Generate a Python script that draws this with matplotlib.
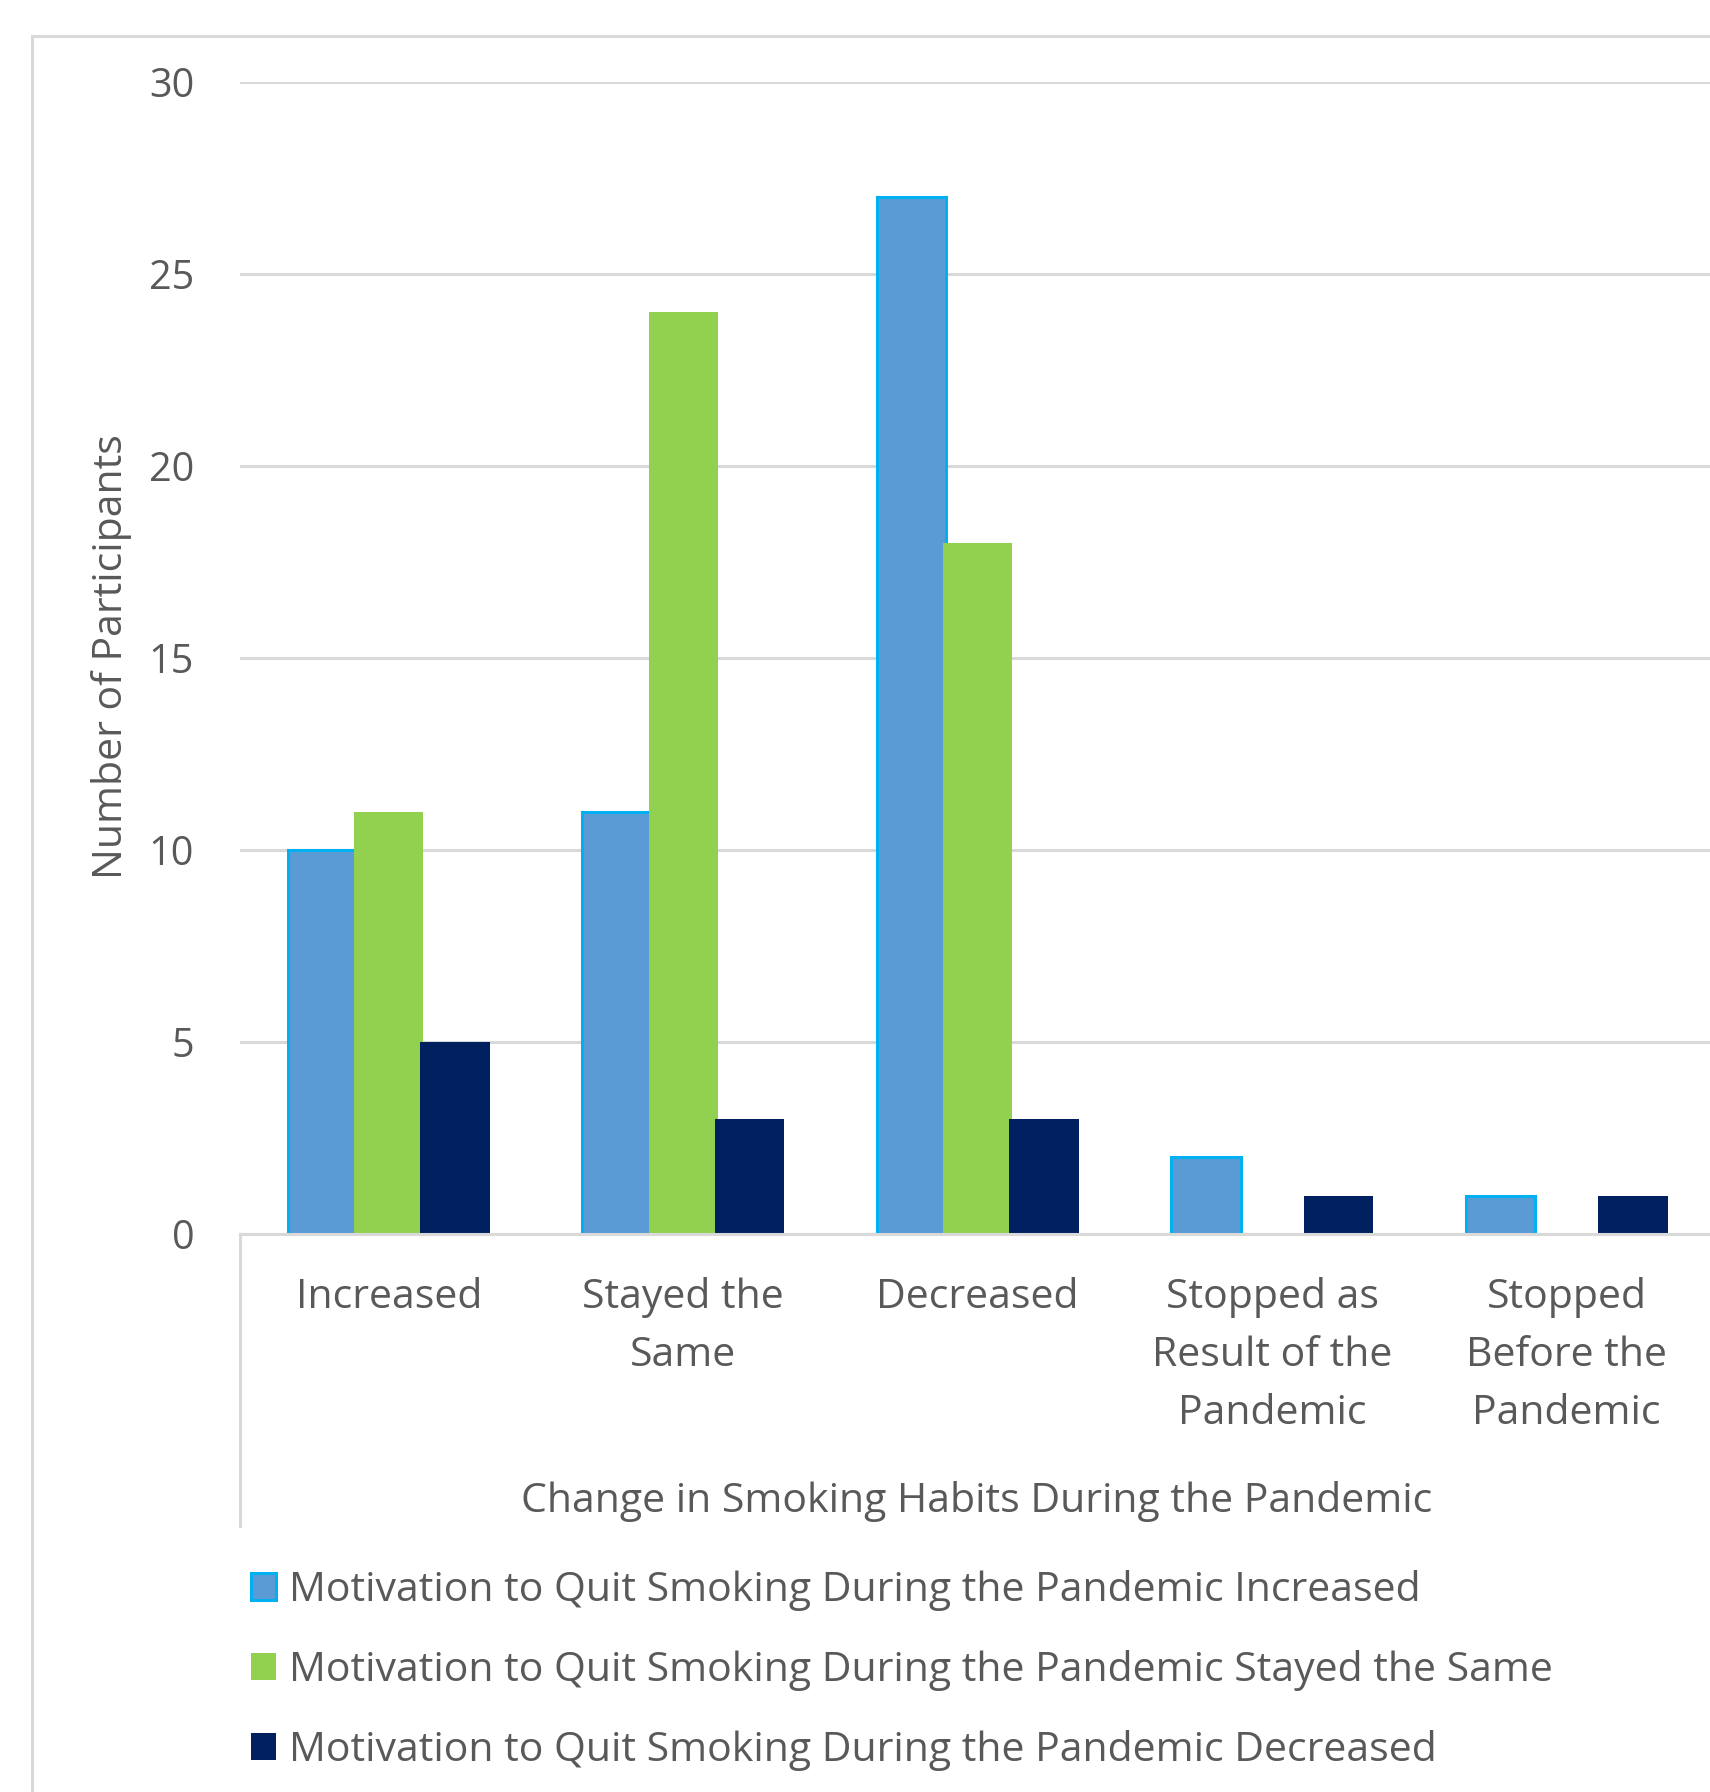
import numpy as np
import matplotlib
matplotlib.use("Agg")
import matplotlib.pyplot as plt
from matplotlib.lines import Line2D

plt.rcParams['font.family'] = ['Open Sans', 'DejaVu Sans']

categories = ['Increased', 'Stayed the\nSame', 'Decreased',
              'Stopped as\nResult of the\nPandemic', 'Stopped\nBefore the\nPandemic']
motivation_increased = [10, 11, 27, 2, 1]
motivation_same = [11, 24, 18, 0, 0]
motivation_decreased = [5, 3, 3, 1, 1]
series_labels = ['Motivation to Quit Smoking During the Pandemic Increased',
                 'Motivation to Quit Smoking During the Pandemic Stayed the Same',
                 'Motivation to Quit Smoking During the Pandemic Decreased']
y_ticks = [0, 5, 10, 15, 20, 25, 30]

TEXT = '#595959'
GRID = '#d9d9d9'
FS = 29.5

W, H = 1710, 1792
fig = plt.figure(figsize=(W / 100, H / 100), dpi=100)
ax = fig.add_axes([240 / W, 1 - 1234 / H, 1474 / W, (1234 - 82) / H])

x = np.arange(len(categories))
bw = 0.235
off = 0.225
b1 = ax.bar(x - off, motivation_increased, bw, color='#5b9bd5', edgecolor='#00b0f0',
            linewidth=2.2, label=series_labels[0], zorder=3)
b2 = ax.bar(x, motivation_same, bw, color='#92d050', linewidth=0,
            label=series_labels[1], zorder=3)
b3 = ax.bar(x + off, motivation_decreased, bw, color='#002060', linewidth=0,
            label=series_labels[2], zorder=3)

ax.set_xlim(-0.505, 4.5)
ax.set_ylim(0, 30)
ax.set_yticks(y_ticks)
ax.set_yticklabels([str(v) for v in y_ticks], fontsize=FS - 1, color=TEXT)
ax.yaxis.grid(True, color=GRID, linewidth=2.2, zorder=0)
ax.set_axisbelow(True)
for s in ['top', 'right', 'left']:
    ax.spines[s].set_visible(False)
ax.spines['bottom'].set_color(GRID)
ax.spines['bottom'].set_linewidth(2.2)
ax.spines['bottom'].set_zorder(4)
ax.tick_params(axis='both', length=0)
ax.tick_params(axis='y', pad=33)
ax.set_xticks(x)
ax.set_xticklabels(categories, fontsize=FS, color=TEXT, linespacing=1.58)
ax.tick_params(axis='x', pad=31)

# vertical line below plot on the left, and outer chart frame
fig.add_artist(Line2D([240 / W, 240 / W], [1 - 1234 / H, 1 - 1526 / H],
                      color=GRID, linewidth=2.2))
fig.add_artist(Line2D([32 / W, 32 / W], [0, 1 - 36 / H], color=GRID, linewidth=2.2))
fig.add_artist(Line2D([32 / W, 1], [1 - 36 / H, 1 - 36 / H], color=GRID, linewidth=2.2))

fig.text(111 / W, 1 - 657 / H, 'Number of Participants', rotation=90,
         ha='center', va='center', fontsize=FS, color=TEXT)
fig.text(977 / W, 1 - 1501 / H, 'Change in Smoking Habits During the Pandemic',
         ha='center', va='center', fontsize=FS, color=TEXT)

fig.legend(handles=[b1, b2, b3], loc='upper left', bbox_to_anchor=(251 / W, 1 - 1570 / H),
           frameon=False, fontsize=FS, labelcolor=TEXT, handlelength=0.62,
           handleheight=0.62, handletextpad=0.3, labelspacing=0.95,
           borderpad=0, borderaxespad=0)

fig.savefig('out.png', dpi=100)
